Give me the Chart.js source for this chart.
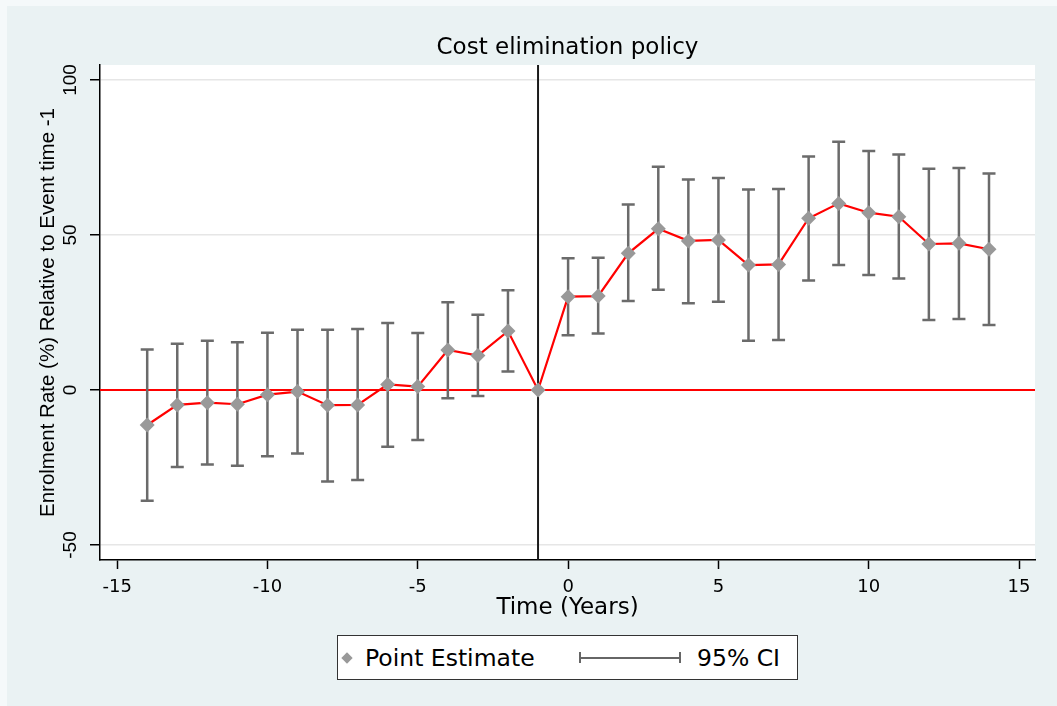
<!DOCTYPE html>
<html>
<head>
<meta charset="utf-8">
<script src="https://cdn.jsdelivr.net/npm/chart.js@4.4.1/dist/chart.umd.min.js"></script>
<style>
  html, body { margin: 0; padding: 0; background: #eaf2f3; }
  #wrap { position: relative; width: 1057px; height: 706px; }
  canvas { display: block; }
  .lg { position: absolute; }
  #legendBox { left: 337px; top: 635px; width: 461px; height: 45px; box-sizing: border-box;
               border: 1.5px solid #333; background: #fff; }
  .lgText { font-family: "DejaVu Sans", sans-serif; font-size: 23.5px; line-height: 28px; top: 643.5px; color: #000; white-space: nowrap; }
  #lgDiamond { left: 343px; top: 654px; width: 8px; height: 8px; background: #999; transform: rotate(45deg); }
  .ciBar { background: #666; }
</style>
</head>
<body>
<div id="wrap">
  <canvas id="chart" width="1057" height="706"></canvas>
  <div id="legendBox" class="lg"></div>
  <div id="lgDiamond" class="lg"></div>
  <div class="lg lgText" style="left:365px">Point Estimate</div>
  <div class="lg ciBar" style="left:579px; top:657px; width:102px; height:2px"></div>
  <div class="lg ciBar" style="left:579px; top:652px; width:2px; height:11px"></div>
  <div class="lg ciBar" style="left:679px; top:652px; width:2px; height:11px"></div>
  <div class="lg lgText" style="left:697px">95% CI</div>
</div>
<script>
// event-study estimates
const years = [-14, -13, -12, -11, -10, -9, -8, -7, -6, -5, -4, -3, -2, -1,
               0, 1, 2, 3, 4, 5, 6, 7, 8, 9, 10, 11, 12, 13, 14];
const estimate = [-11.3, -4.8, -4.1, -4.6, -1.5, -0.5, -4.9, -4.8, 1.8, 1.1, 12.9, 11.1, 19.0, 0,
                  30.1, 30.3, 44.1, 52.0, 48.1, 48.4, 40.3, 40.5, 55.4, 60.2, 57.2, 55.9, 47.1, 47.3, 45.4];
const ciLow = [-35.7, -24.8, -24.0, -24.4, -21.4, -20.5, -29.5, -29.0, -18.3, -16.1, -2.7, -1.9, 6.0, null,
               17.7, 18.2, 28.7, 32.3, 28.0, 28.5, 15.9, 16.1, 35.3, 40.3, 37.1, 36.0, 22.6, 22.9, 21.0];
const ciHigh = [13.1, 14.9, 15.9, 15.4, 18.5, 19.4, 19.4, 19.7, 21.6, 18.4, 28.3, 24.3, 32.2, null,
                42.5, 42.7, 59.8, 72.0, 67.9, 68.4, 64.7, 64.8, 75.3, 80.1, 77.1, 76.0, 71.4, 71.6, 69.8];

const xTicks = [-15, -10, -5, 0, 5, 10, 15];
const yTicks = [-50, 0, 50, 100];
const xRange = [-15.57, 15.53];
const yRange = [-54.84, 104.84];
const eventTime = -1;
const refLevel = 0;

// background panel + white plot region
const backdrop = {
    id: 'backdrop',
    beforeDraw(chart) {
        const ctx = chart.ctx;
        const a = chart.chartArea;
        ctx.save();
        ctx.fillStyle = '#f5f9fa';
        ctx.fillRect(0, 0, chart.width, chart.height);
        ctx.fillStyle = '#eaf2f3';
        ctx.fillRect(7, 6, chart.width - 7, chart.height - 6);
        ctx.fillStyle = '#ffffff';
        ctx.fillRect(a.left, a.top, a.right - a.left, a.bottom - a.top);
        ctx.restore();
    }
};

// reference lines and 95% CI bars, placed through the scales
const ciBars = {
    id: 'ciBars',
    beforeDatasetsDraw(chart) {
        const ctx = chart.ctx;
        const xs = chart.scales.x, ys = chart.scales.y;
        const a = chart.chartArea;
        ctx.save();
        ctx.lineWidth = 2.2;
        ctx.strokeStyle = '#ff0000';
        const y0 = ys.getPixelForValue(refLevel);
        ctx.beginPath(); ctx.moveTo(a.left, y0); ctx.lineTo(a.right, y0); ctx.stroke();
        ctx.strokeStyle = '#1a1a1a';
        ctx.lineWidth = 2;
        const xe = xs.getPixelForValue(eventTime);
        ctx.beginPath(); ctx.moveTo(xe, a.top); ctx.lineTo(xe, a.bottom); ctx.stroke();

        ctx.strokeStyle = '#6b6b6b';
        ctx.lineWidth = 2.5;
        years.forEach((yr, i) => {
            if (ciLow[i] == null) return;
            const x = xs.getPixelForValue(yr);
            const lo = ys.getPixelForValue(ciLow[i]);
            const hi = ys.getPixelForValue(ciHigh[i]);
            ctx.beginPath();
            ctx.moveTo(x, lo); ctx.lineTo(x, hi);
            ctx.moveTo(x - 6.5, lo); ctx.lineTo(x + 6.5, lo);
            ctx.moveTo(x - 6.5, hi); ctx.lineTo(x + 6.5, hi);
            ctx.stroke();
        });
        ctx.restore();
    }
};

const chart = new Chart(document.getElementById('chart'), {
    type: 'line',
    data: {
        datasets: [{
            label: 'Point Estimate',
            data: years.map((x, i) => ({ x: x, y: estimate[i] })),
            borderColor: '#ff0000',
            borderWidth: 2.2,
            pointStyle: 'rectRot',
            pointRadius: 7.5,
            pointBackgroundColor: '#999999',
            pointBorderWidth: 0,
            tension: 0
        }]
    },
    options: {
        responsive: false,
        animation: false,
        layout: { padding: { top: 0, left: 0, right: 22, bottom: 86 } },
        plugins: {
            legend: { display: false },
            tooltip: { enabled: false },
            title: {
                display: true,
                text: 'Cost elimination policy',
                fullSize: false,
                color: '#000',
                font: { family: 'DejaVu Sans', size: 23, weight: 'normal', lineHeight: 1 },
                padding: { top: 37, bottom: 5 }
            }
        },
        scales: {
            x: {
                type: 'linear',
                min: xRange[0],
                max: xRange[1],
                afterBuildTicks: s => { s.ticks = xTicks.map(v => ({ value: v })); },
                afterFit: s => { s.height = 60; },
                border: { color: '#000', width: 1.5 },
                grid: { drawOnChartArea: false, drawTicks: true, tickLength: 9, tickColor: '#000', tickWidth: 1.5 },
                ticks: {
                    color: '#000', padding: 8, maxRotation: 0, autoSkip: false,
                    font: { family: 'DejaVu Sans', size: 18 }
                },
                title: {
                    display: true,
                    text: 'Time (Years)',
                    color: '#000',
                    font: { family: 'DejaVu Sans', size: 23, lineHeight: 1 },
                    padding: { top: 0, bottom: 0 }
                }
            },
            y: {
                min: yRange[0],
                max: yRange[1],
                afterBuildTicks: s => { s.ticks = yTicks.map(v => ({ value: v })); },
                afterFit: s => { s.width = 100; },
                border: { color: '#000', width: 1.5 },
                grid: { color: '#e6e6e6', lineWidth: 1.5, drawTicks: true, tickLength: 10, tickColor: '#000', tickWidth: 1.5 },
                ticks: {
                    color: '#000', padding: 3, minRotation: 90, maxRotation: 90, crossAlign: 'center', autoSkip: false,
                    font: { family: 'Liberation Sans', size: 19 }
                },
                title: {
                    display: true,
                    text: 'Enrolment Rate (%) Relative to Event time -1',
                    color: '#000',
                    font: { family: 'Liberation Sans', size: 20.5, lineHeight: 1 },
                    padding: { top: 38, bottom: 0 }
                }
            }
        }
    },
    plugins: [backdrop, ciBars]
});
</script>
</body>
</html>
